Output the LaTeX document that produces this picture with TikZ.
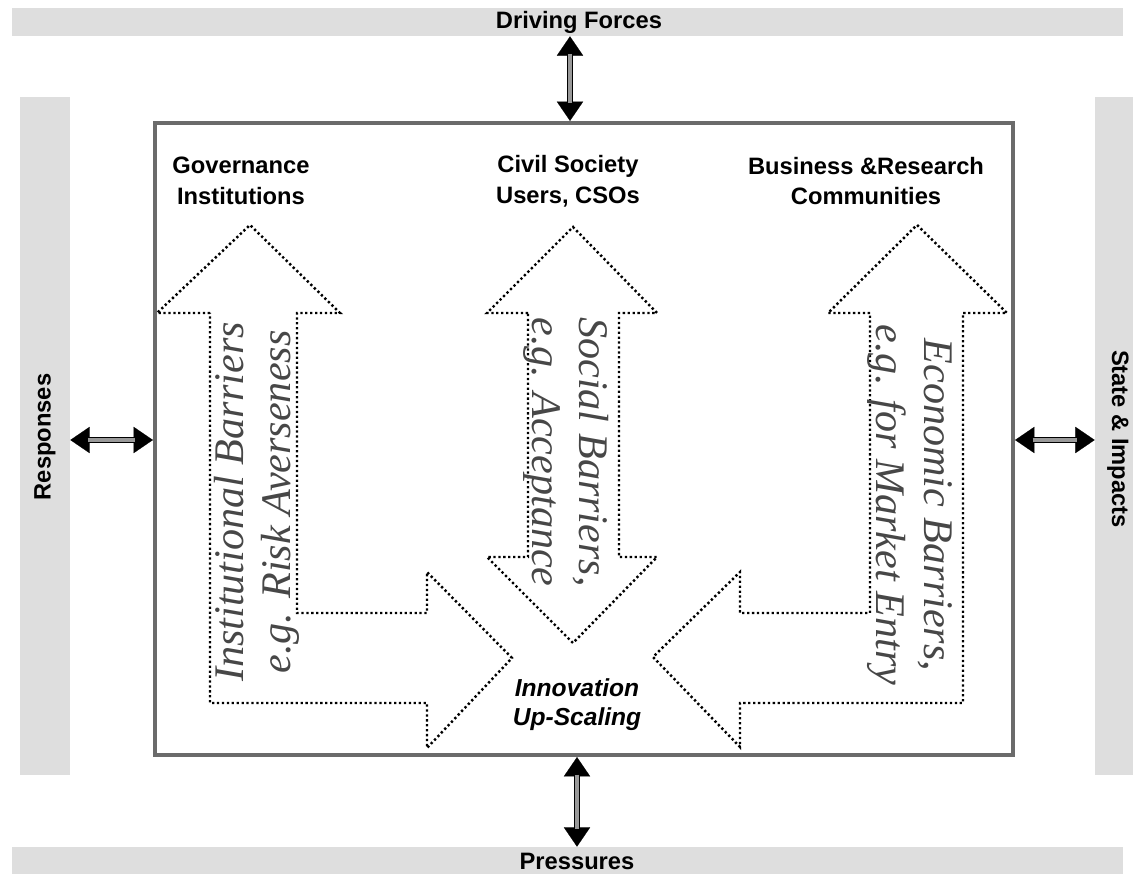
\documentclass[tikz,border=0pt]{standalone}
\usepackage{fontspec}
\setmainfont{Liberation Serif}
\setsansfont{Liberation Sans}
\usetikzlibrary{arrows.meta,fit}

\tikzset{
  band/.style={fill=black!13, draw=none, inner sep=0pt},
  bandtext/.style={font=\sffamily\bfseries\fontsize{13.5}{16}\selectfont},
  actor/.style={font=\sffamily\bfseries\fontsize{13.5}{17.5}\selectfont, align=center},
  barrier/.style={line width=1.4pt, dash pattern=on 1.3pt off 1.5pt},
  barriertext/.style={font=\itshape\fontsize{24}{27}\selectfont, text=black!72, align=center},
  tips/.style={line width=0.1pt, {Triangle[length=11pt,width=15pt]}-{Triangle[length=11pt,width=15pt]}},
  link/.style={double=black!40, double distance=2pt, line width=0.8pt, shorten <=10pt, shorten >=10pt}
}

\begin{document}
\begin{tikzpicture}[x=0.02cm, y=-0.02cm]

      \useasboundingbox (0,0) rectangle (1133,874);

      % outer bands
      \node[band, fit={(12,8) (1123,36)}] (drivers) {};
      \node[band, fit={(12,847) (1123,874)}] (pressures) {};
      \node[band, fit={(20,97) (70,775)}] (responses) {};
      \node[band, fit={(1095,97) (1133,775)}] (state) {};

      \node[bandtext] (driverstext) at (579,22) {Driving Forces};
      \node[bandtext] (pressurestext) at (577,861) {Pressures};
      \node[bandtext, rotate=90] (responsestext) at (45,437) {Responses};
      \node[bandtext, rotate=-90] (statetext) at (1118,439) {State \& Impacts};

      % the system box
      \node[draw=black!58, line width=2.4pt, inner sep=0pt, fit={(155,123) (1013,755)}] (system) {};

      % double arrows between bands and box
      \coordinate (dx) at (570,0);
      \coordinate (px) at (577,0);
      \coordinate (my) at (0,440);
      \foreach \a/\b in {drivers.south -| dx/system.north -| dx,
                         system.south -| px/pressures.north -| px,
                         responses.east |- my/system.west |- my,
                         system.east |- my/state.west |- my}{
        \draw[tips] (\a) -- (\b);
        \draw[link] (\a) -- (\b);
      }

      % actors
      \node[actor] (gov) at (241,181) {Governance\\Institutions};
      \node[actor] (civil) at (568,181) {Civil Society\\Users, CSOs};
      \node[actor] (business) at (866,181) {Business \&Research\\Communities};

      % barrier arrows
      \draw[barrier] (210,313) -- (157,313) -- (250,225) -- (340,313) -- (297,313)
                   -- (297,613) -- (427,613) -- (427,572) -- (512,658) -- (427,748)
                   -- (427,703) -- (210,703) -- cycle;
      \draw[barrier] (528,313) -- (487,313) -- (573,227) -- (657,313) -- (619,313)
                   -- (619,557) -- (657,557) -- (573,643) -- (487,557) -- (528,557) -- cycle;
      \draw[barrier] (870,313) -- (828,313) -- (917,225) -- (1007,313) -- (963,313)
                   -- (963,703) -- (740,703) -- (740,747) -- (653,657) -- (740,572)
                   -- (740,613) -- (870,613) -- cycle;

      \node[barriertext, rotate=90] (institutional) at (257,502) {Institutional Barriers\\e.g. Risk Averseness};
      \node[barriertext, rotate=-90] (social) at (566,452) {Social Barriers,\\e.g. Acceptance};
      \node[barriertext, rotate=-90] (economic) at (910,505) {Economic Barriers,\\e.g. for Market Entry};

      \node[actor, font=\sffamily\bfseries\itshape\fontsize{14}{16.5}\selectfont] (upscaling) at (577,705) {Innovation\\Up-Scaling};

    \end{tikzpicture}
\end{document}
